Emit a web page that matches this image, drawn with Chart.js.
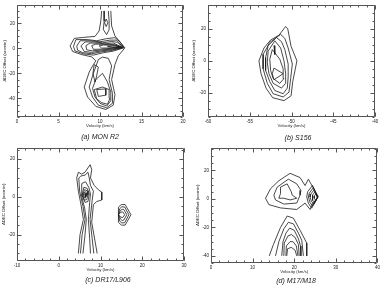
<!DOCTYPE html>
<html>
<head>
<meta charset="utf-8">
<script src="https://cdn.jsdelivr.net/npm/chart.js@4.4.0/dist/chart.umd.min.js"></script>
<style>
  html, body { margin: 0; padding: 0; background: #fff; }
  body { width: 382px; height: 287px; position: relative; overflow: hidden; font-family: "Liberation Sans", Arial, sans-serif; }
  canvas { position: absolute; }
  .caption { position: absolute; font-style: italic; font-size: 7px; color: #222; transform: translate(-50%, -50%); white-space: nowrap; }
</style>
</head>
<body>
<canvas id="chart-a" width="191" height="143" style="left:0;top:0"></canvas>
<canvas id="chart-b" width="191" height="143" style="left:191px;top:0"></canvas>
<canvas id="chart-c" width="191" height="144" style="left:0;top:143px"></canvas>
<canvas id="chart-d" width="191" height="144" style="left:191px;top:143px"></canvas>
<div class="caption" style="left:100px;top:136px">(a) MON R2</div>
<div class="caption" style="left:298px;top:137px">(b) S156</div>
<div class="caption" style="left:108px;top:279px">(c) DR17/L906</div>
<div class="caption" style="left:296px;top:280px">(d) M17/M18</div>
<script>
// Tick labels
const velTicksA = [0, 5, 10, 15, 20];
const offTicksA = [-40, -20, 0, 20];
const velTicksB = [-60, -55, -50, -45, -40];
const offTicksB = [-20, 0, 20];
const velTicksC = [-10, 0, 10, 20, 30];
const offTicksC = [-20, 0, 20];
const velTicksD = [0, 10, 20, 30, 40];
const offTicksD = [-40, -20, 0, 20];

// (a) MON R2 contours, [velocity, offset]
const monOuter = [[10.2,30],[10.1,22],[9.9,14],[9.4,9.6],[8.0,8.8],[6.9,8.0],[6.4,2],[6.7,-2.5],[7.8,-5],[9.0,-6.8],[9.5,-10],[9.2,-13],[8.7,-19],[8.1,-31],[8.5,-39],[9.5,-46.5],[10.7,-49],[11.6,-45.5],[11.8,-37],[11.4,-25],[11.8,-13],[12.2,-6],[13.0,0.4],[12.3,6],[11.8,10],[11.4,18],[11.3,30]];
const monUpper = [[10.5,30],[10.5,22],[10.4,15],[10.8,11],[11.1,15],[11.1,22],[11.0,30]];
const monKnot = [[10.75,23.5],[10.95,20.5],[10.75,17.5],[10.55,20.5],[10.75,23.5]];
const monTongue1 = [[6.8,1.6],[7.1,7.0],[8.4,7.1],[9.6,6.1],[10.8,7.8],[11.8,8.6],[12.4,5.4],[12.9,0.5],[11.6,-2.2],[10.4,-3.5],[9.2,-5.4],[8.0,-4.4],[7.0,-2.1],[6.8,1.6]];
const monTongue2 = [[7.2,1.8],[7.6,6.1],[8.8,6.1],[10.0,5.3],[11.2,6.6],[12.0,6.6],[12.8,0.6],[11.5,-1.6],[10.2,-2.8],[9.0,-4.3],[7.9,-3.4],[7.3,-1.4],[7.2,1.8]];
const monTongue3 = [[7.7,2.0],[8.2,5.2],[9.3,5.1],[10.3,4.5],[11.4,5.5],[12.1,4.9],[12.8,0.7],[11.5,-1.0],[10.2,-2.0],[9.0,-3.2],[8.1,-2.5],[7.7,2.0]];
const monTongue4 = [[8.3,2.1],[8.8,4.3],[9.8,4.1],[10.6,3.7],[11.6,4.3],[12.7,0.8],[11.5,-0.5],[10.2,-1.3],[9.1,-2.0],[8.4,-1.2],[8.3,2.1]];
const monTongue5 = [[9.0,2.2],[9.5,3.4],[10.4,3.2],[11.7,3.1],[12.6,1.0],[11.4,0.0],[10.2,-0.6],[9.2,-0.8],[9.0,2.2]];
const monTongue6 = [[9.9,2.0],[10.4,2.7],[11.8,2.4],[12.5,1.1],[11.4,0.4],[10.2,0.2],[9.9,2.0]];
const monTongue7 = [[10.9,1.6],[11.8,1.9],[12.4,1.2],[11.5,0.8],[10.9,1.6]];
const monLower1 = [[9.8,-9],[9.2,-20],[8.7,-31],[9.1,-39],[9.8,-45.5],[10.8,-47.6],[11.5,-44],[11.5,-36],[11.1,-25],[11.4,-14],[11.0,-8],[10.3,-7],[9.8,-9]];
const monLower2 = [[9.5,-25],[9.1,-32],[9.4,-39],[10.0,-44],[10.8,-46.2],[11.3,-42],[11.3,-35],[10.9,-27],[10.3,-20],[9.5,-25]];
const monLower3 = [[9.3,-33],[9.6,-40.5],[10.2,-43.5],[10.9,-44.8],[11.2,-40],[11.1,-33],[10.3,-31],[9.3,-33]];
const monLower4 = [[9.6,-33],[10.7,-32.5],[10.7,-37.5],[9.8,-38.5],[9.6,-33]];
const monSide = [[9.3,-13],[9.8,-15],[9.6,-22],[9.4,-27],[9.15,-20],[9.3,-13]];

// (b) S156 contours
const s156Level1 = [[-50.7,21.4],[-51.5,16],[-52.5,13],[-53.3,8],[-53.9,0],[-53.65,-8],[-53.05,-17],[-52.25,-23],[-50.9,-24.8],[-50.05,-21.8],[-49.85,-12.8],[-49.35,0],[-50.05,9],[-50.45,20],[-50.7,21.4]];
const s156Level2 = [[-51.3,16.5],[-52.6,11.5],[-53.4,4],[-53.4,-5],[-52.9,-14],[-52.2,-20.5],[-51.0,-22.5],[-50.3,-19.5],[-50.1,-11],[-49.9,-2],[-50.4,8],[-50.8,14],[-51.3,16.5]];
const s156Level3 = [[-51.8,14.5],[-52.8,9.5],[-53.1,2],[-53.1,-6],[-52.6,-13],[-52.0,-18.5],[-51.0,-20.5],[-50.5,-17],[-50.4,-10],[-50.4,-2],[-50.8,7],[-51.2,12],[-51.8,14.5]];
const s156Level4 = [[-52.0,12.5],[-52.8,6],[-52.9,-1],[-52.7,-8],[-52.2,-14],[-51.2,-17],[-50.7,-14],[-50.7,-8],[-50.9,0],[-51.3,8],[-52.0,12.5]];
const s156Level5 = [[-52.3,7],[-52.6,1],[-52.5,-6],[-52.2,-11],[-51.4,-14],[-50.9,-11],[-51.0,-5],[-51.4,1],[-52.3,7]];
const s156Level6 = [[-52.1,-4.5],[-51.0,-8],[-52.1,-11.8],[-52.3,-8],[-52.1,-4.5]];
const s156Level7 = [[-52.05,9.5],[-52.0,4],[-52.1,9.5]];

// (c) DR17/L906 contours
const drOuter = [[4.7,-30],[5.1,-20],[5.9,-12],[5.4,-5],[4.7,3],[4.3,10],[4.7,13],[5.5,12],[6.3,13],[7.5,17],[7.9,14.5],[7.6,10],[8.5,6],[9.6,3.5],[10.3,2.5],[10.3,-1.7],[9.1,-2.5],[8.3,-4.2],[7.9,-13.5],[8.7,-23.6],[9.2,-30]];
const drMid = [[5.2,-30],[5.6,-20],[6.3,-12],[5.8,-5],[5.0,3],[4.8,10],[5.3,11],[6.3,11.5],[7.0,13],[7.3,10],[7.6,6],[8.3,3],[8.0,-2],[7.5,-12],[8.0,-22],[8.4,-30]];
const drInner = [[5.8,-30],[6.3,-20],[6.6,-12],[6.2,-6],[5.4,1],[5.5,7],[6.4,8],[7.2,5],[7.6,1.5],[7.4,-3],[7.1,-12],[7.4,-22],[7.6,-30]];
const drKnot1 = [[5.6,0.9],[6.0,5],[6.8,4.5],[7.3,1.5],[7.0,-2.5],[6.3,-3],[5.6,0.9]];
const drKnot2 = [[5.7,0.9],[6.2,3.8],[6.8,3.2],[7.0,1],[6.7,-1.5],[6.1,-1.8],[5.7,0.9]];
const drKnot3 = [[5.8,0.9],[6.3,2.7],[6.7,2],[6.7,0.5],[6.3,-0.8],[5.8,0.9]];
const drKnot4 = [[5.9,0.9],[6.3,1.8],[6.5,1],[6.3,0],[5.9,0.9]];
const drBlob1 = [[14.3,-9.5],[14.3,-5.5],[15.0,-4.1],[15.9,-4.1],[17.3,-9.5],[15.9,-15],[15.0,-15],[14.3,-13.5],[14.3,-9.5]];
const drBlob2 = [[14.3,-9.5],[14.6,-6.3],[15.1,-5.3],[15.8,-5.4],[16.8,-9.5],[15.8,-13.7],[15.1,-13.9],[14.6,-12.8],[14.3,-9.5]];
const drBlob3 = [[14.3,-9.5],[14.8,-7.2],[15.2,-6.6],[15.6,-6.8],[16.3,-9.5],[15.6,-12.3],[15.2,-12.6],[14.8,-11.8],[14.3,-9.5]];
const drBlob4 = [[14.3,-9.5],[14.9,-8.2],[15.3,-8.0],[15.8,-9.5],[15.3,-11.0],[14.9,-10.8],[14.3,-9.5]];

// (d) M17/M18 contours
const m17Upper1 = [[13.1,0.5],[14.3,7.2],[16.3,12.8],[19.0,18],[21.4,15],[22.6,9.4],[23.4,13.9],[24.5,8],[25.8,1.6],[24.5,-3],[23.8,-7.4],[22.6,-2.9],[20.6,-7.4],[16.7,-6.3],[13.9,-4],[13.1,0.5]];
const m17Upper2 = [[15.1,2.7],[15.9,8.3],[18.6,13.9],[20.6,10.6],[21.6,6],[21.4,2.7],[20.6,-2.9],[17.5,-3.6],[15.5,-0.7],[15.1,2.7]];
const m17Upper3 = [[16.7,8.3],[18.3,10.6],[19.3,5],[19.5,2.7],[20.6,0.5],[19.0,-0.7],[17.5,0.5],[16.3,0.5],[16.7,3.8],[16.7,8.3]];
const m17Lobe1 = [[25.6,1.3],[24.4,9.5],[23.2,5],[23.0,1.3],[23.4,-3],[24.2,-6.5],[25.6,1.3]];
const m17Lobe2 = [[25.6,1.3],[24.6,8],[23.6,4],[23.4,1.3],[23.8,-2.5],[24.4,-5],[25.6,1.3]];
const m17Lobe3 = [[25.6,1.3],[24.8,6.5],[24.0,3.5],[23.8,1.3],[24.1,-1.5],[24.7,-3.8],[25.6,1.3]];
const m17Lobe4 = [[25.6,1.3],[25.0,5],[24.4,2.8],[24.3,1.3],[24.5,-1],[25.0,-2.5],[25.6,1.3]];
const m17Lobe5 = [[25.6,1.3],[25.2,3.5],[24.8,2],[24.8,0.5],[25.2,-1.2],[25.6,1.3]];
const m17Lower1 = [[14.0,-40],[15.0,-32],[16.7,-20],[18.3,-12],[19.8,-13.5],[21.4,-22],[23.0,-31],[23.0,-40]];
const m17Lower2 = [[15.5,-40],[16.3,-30],[17.5,-21],[18.6,-16.4],[19.8,-17.5],[21.0,-24],[21.8,-29],[22.2,-40]];
const m17Lower3 = [[17.0,-40],[17.3,-30],[18.0,-24],[18.9,-20.5],[20.0,-22],[21.0,-28],[21.5,-33],[21.6,-40]];
const m17Lower4 = [[17.5,-40],[17.6,-31],[18.5,-26],[19.3,-25],[20.2,-27],[21.0,-32],[21.2,-40]];
const m17Lower5 = [[18.0,-40],[18.1,-33],[19.0,-30],[19.7,-30],[20.5,-33],[20.9,-40]];
const m17Lower6 = [[18.2,-40],[18.4,-35],[19.3,-34],[20.2,-36],[20.6,-40]];

const inkColor = '#1a1a1a';
const frameColor = '#555';

// inward ticks on all four sides plus the box
const frameTicks = {
    id: 'frameTicks',
    afterDatasetsDraw(chart, args, opts) {
        const { ctx, chartArea: a, scales: { x, y } } = chart;
        const L = Math.round(a.left) + 0.5, R = Math.round(a.right) - 0.5;
        const T = Math.round(a.top) + 0.5, B = Math.round(a.bottom) - 0.5;
        ctx.save();
        ctx.strokeStyle = frameColor;
        ctx.lineWidth = 1;
        ctx.beginPath();
        ctx.rect(L, T, R - L, B - T);
        const markX = (v, len) => {
            const px = Math.round(x.getPixelForValue(v)) + 0.5;
            ctx.moveTo(px, B); ctx.lineTo(px, B - len);
            ctx.moveTo(px, T); ctx.lineTo(px, T + len);
        };
        const markY = (v, len) => {
            const py = Math.round(y.getPixelForValue(v)) + 0.5;
            ctx.moveTo(L, py); ctx.lineTo(L + len, py);
            ctx.moveTo(R, py); ctx.lineTo(R - len, py);
        };
        for (let v = x.min; v <= x.max + 1e-9; v += opts.xMinor) markX(v, 2);
        for (let v = Math.ceil(y.min / opts.yMinor) * opts.yMinor; v <= y.max + 1e-9; v += opts.yMinor) markY(v, 2);
        opts.xMajor.forEach(v => markX(v, 4));
        opts.yMajor.forEach(v => markY(v, 4));
        ctx.stroke();
        ctx.restore();
    }
};

function makePanel(id, cfg) {
    const tickFont = { family: '"Liberation Sans", Arial, sans-serif', size: 4.5 };
    const titleFont = { family: '"Liberation Sans", Arial, sans-serif', size: 4.3 };
    return new Chart(document.getElementById(id), {
        type: 'scatter',
        data: {
            datasets: cfg.contours.map(c => ({
                data: c,
                showLine: true,
                borderColor: inkColor,
                borderWidth: 0.8,
                pointRadius: 0,
                fill: false,
                tension: 0
            }))
        },
        plugins: [frameTicks],
        options: {
            responsive: false,
            animation: false,
            devicePixelRatio: 1,
            layout: { padding: cfg.padding },
            plugins: {
                legend: { display: false },
                tooltip: { enabled: false },
                frameTicks: { xMajor: cfg.xTicks, yMajor: cfg.yTicks, xMinor: cfg.xMinor, yMinor: cfg.yMinor }
            },
            scales: {
                x: {
                    type: 'linear',
                    min: cfg.xRange[0],
                    max: cfg.xRange[1],
                    afterBuildTicks: s => { s.ticks = cfg.xTicks.map(v => ({ value: v })); },
                    afterFit: s => { s.height = 14; },
                    grid: { display: false, drawTicks: false },
                    border: { display: false },
                    ticks: { font: tickFont, color: '#222', padding: 2, maxRotation: 0, autoSkip: false },
                    title: { display: true, text: 'Velocity (km/s)', font: titleFont, color: '#222', padding: { top: 0, bottom: 2.3 } }
                },
                y: {
                    type: 'linear',
                    min: cfg.yRange[0],
                    max: cfg.yRange[1],
                    afterBuildTicks: s => { s.ticks = cfg.yTicks.map(v => ({ value: v })); },
                    afterFit: s => { s.width = cfg.yWidth; },
                    grid: { display: false, drawTicks: false },
                    border: { display: false },
                    ticks: { font: tickFont, color: '#222', padding: 2, autoSkip: false },
                    title: { display: true, text: 'ΔDEC Offset (arcmin)', font: titleFont, color: '#222', padding: { top: cfg.yTitlePad, bottom: 0 } }
                }
            }
        }
    });
}

makePanel('chart-a', {
    contours: [monOuter, monUpper, monKnot, monTongue1, monTongue2, monTongue3, monTongue4, monTongue5, monTongue6, monTongue7, monLower1, monLower2, monLower3, monLower4, monSide],
    xRange: [0, 20], yRange: [-55, 35],
    xTicks: velTicksA, yTicks: offTicksA, xMinor: 1, yMinor: 5,
    padding: { left: 0, top: 0, right: 8, bottom: 12 }, yWidth: 17, yTitlePad: 1.8
});
makePanel('chart-b', {
    contours: [s156Level1, s156Level2, s156Level3, s156Level4, s156Level5, s156Level6, s156Level7],
    xRange: [-60, -40], yRange: [-35, 35],
    xTicks: velTicksB, yTicks: offTicksB, xMinor: 1, yMinor: 5,
    padding: { left: 0, top: 0, right: 7, bottom: 12 }, yWidth: 17, yTitlePad: 0.6
});
makePanel('chart-c', {
    contours: [drOuter, drMid, drInner, drKnot1, drKnot2, drKnot3, drKnot4, drBlob1, drBlob2, drBlob3, drBlob4],
    xRange: [-10, 30], yRange: [-34, 26],
    xTicks: velTicksC, yTicks: offTicksC, xMinor: 2, yMinor: 5,
    padding: { left: 0, top: 1, right: 7, bottom: 12 }, yWidth: 17, yTitlePad: 1.3
});
makePanel('chart-d', {
    contours: [m17Upper1, m17Upper2, m17Upper3, m17Lobe1, m17Lobe2, m17Lobe3, m17Lobe4, m17Lobe5, m17Lower1, m17Lower2, m17Lower3, m17Lower4, m17Lower5, m17Lower6],
    xRange: [0, 40], yRange: [-45, 36],
    xTicks: velTicksD, yTicks: offTicksD, xMinor: 2, yMinor: 5,
    padding: { left: 0, top: 1, right: 3, bottom: 10 }, yWidth: 20, yTitlePad: 4
});
</script>
</body>
</html>
